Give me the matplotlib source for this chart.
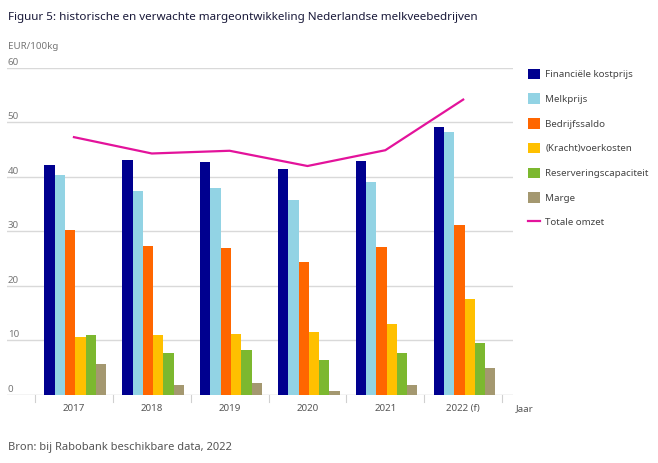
import matplotlib.pyplot as plt
import numpy as np

years = ['2017', '2018', '2019', '2020', '2021', '2022 (f)']
series_names = ['Financiële kostprijs', 'Melkprijs', 'Bedrijfssaldo',
                '(Kracht)voerkosten', 'Reserveringscapaciteit', 'Marge']
kostprijs = [42.1, 43.1, 42.8, 41.4, 43.0, 49.2]
melkprijs = [40.3, 37.4, 37.9, 35.7, 39.1, 48.3]
bedrijfssaldo = [30.2, 27.3, 26.9, 24.3, 27.1, 31.1]
voerkosten = [10.6, 10.9, 11.1, 11.5, 12.9, 17.6]
reservering = [10.9, 7.6, 8.3, 6.4, 7.6, 9.5]
marge = [5.6, 1.8, 2.1, 0.7, 1.8, 4.9]
totale_omzet = [47.3, 44.3, 44.8, 42.0, 44.9, 54.2]
yticks = [0, 10, 20, 30, 40, 50, 60]

colors = ['#00008f', '#92d3e4', '#ff6600', '#ffc000', '#7cb82f', '#a49870']
line_color = '#e3139b'

plt.rcParams['font.family'] = ['Noto Sans', 'DejaVu Sans']

fig = plt.figure(figsize=(6.58, 4.63), dpi=100)
ax = fig.add_axes([7 / 658, (463 - 394.7) / 463, 506 / 658, 326.7 / 463])

x = np.arange(len(years))
w = 0.132
handles = []
for i, (vals, col, name) in enumerate(zip(
        [kostprijs, melkprijs, bedrijfssaldo, voerkosten, reservering, marge],
        colors, series_names)):
    h = ax.bar(x + (i - 2.5) * w + 0.017, vals, width=w, color=col, label=name,
               zorder=3)
    handles.append(h)
ln, = ax.plot(x, totale_omzet, color=line_color, lw=1.6, label='Totale omzet',
              zorder=4)
handles.append(ln)

ax.set_xlim(-0.86, 5.64)
ax.set_ylim(0, 60)
for s in ax.spines.values():
    s.set_visible(False)
ax.set_yticks([])
ax.set_xticks([])
for t in yticks:
    ax.axhline(t, color='#d9d9d9' if t else '#c8c8c8', lw=1, zorder=1)
    ax.text(-0.85, t + 0.2, str(t), fontsize=7, color='#777777',
            ha='left', va='bottom')

# category labels and separators
for i, lab in enumerate(years):
    ax.text(i, -1.7, lab, fontsize=7, color='#555555', ha='center', va='top',
            clip_on=False)
for b in np.arange(-0.5, 6, 1):
    ax.plot([b, b], [0, -1.3], color='#d0d0d0', lw=0.8, clip_on=False)
ax.text(5.67, -1.7, 'Jaar', fontsize=7, color='#555555', ha='left', va='top',
        clip_on=False)

fig.text(8 / 658, 1 - 49 / 463, 'EUR/100kg', fontsize=7, color='#777777',
         ha='left', va='baseline')
fig.text(8 / 658, 1 - 20 / 463,
         'Figuur 5: historische en verwachte margeontwikkeling Nederlandse melkveebedrijven',
         fontsize=8.4, color='#1a1a3a', ha='left', va='baseline',
         fontweight='medium')
fig.text(8 / 658, 1 - 450 / 463, 'Bron: bij Rabobank beschikbare data, 2022',
         fontsize=8, color='#555555', ha='left', va='baseline')

fig.legend(handles=handles, loc='upper left',
           bbox_to_anchor=(519 / 658, 1 - 60 / 463),
           frameon=False, fontsize=7, handlelength=1.3, handleheight=1.3,
           labelspacing=1.45, handletextpad=0.5, labelcolor='#444444')

fig.savefig('out.png', dpi=100)
